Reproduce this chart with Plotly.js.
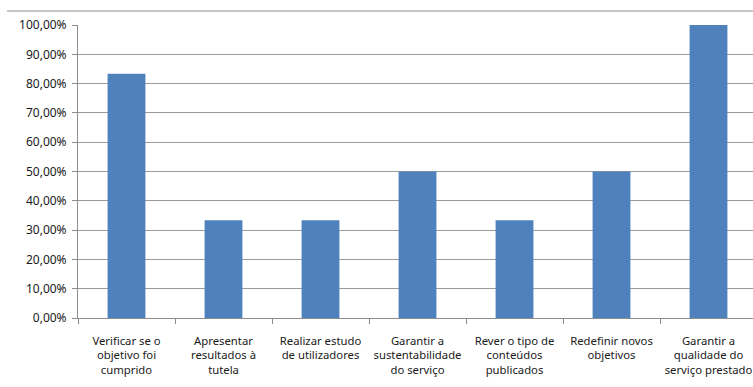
<!DOCTYPE html>
<html>
<head>
<meta charset="utf-8">
<script src="https://cdn.plot.ly/plotly-3.0.1.min.js"></script>
<style>
  html, body { margin: 0; padding: 0; background: #fff; }
  #chart { width: 753px; height: 387px; }
</style>
</head>
<body>
<div id="chart"></div>
<script>
// Objetivos da avaliação e respetiva proporção de respostas
const categories = [
  'Verificar se o<br>objetivo foi<br>cumprido',
  'Apresentar<br>resultados à<br>tutela',
  'Realizar estudo<br>de utilizadores',
  'Garantir a<br>sustentabilidade<br>do serviço',
  'Rever o tipo de<br>conteúdos<br>publicados',
  'Redefinir novos<br>objetivos',
  'Garantir a<br>qualidade do<br>serviço prestado'
];
const shares = [0.8333, 0.3333, 0.3333, 0.5, 0.3333, 0.5, 1.0];
const yTicks = [0, 0.1, 0.2, 0.3, 0.4, 0.5, 0.6, 0.7, 0.8, 0.9, 1.0];

const W = 753, H = 387;
const margin = { l: 78, r: 0, t: 25, b: 69 };
const catWidthPx = 97;                      // horizontal space per category
const plotW = W - margin.l - margin.r;
const xMax = -0.5 + plotW / catWidthPx;     // last category runs past the right edge

const trace = {
  type: 'bar',
  x: categories,
  y: shares,
  marker: { color: '#4F81BD', line: { width: 0 } },
  hoverinfo: 'skip'
};

const layout = {
  width: W,
  height: H,
  margin: margin,
  paper_bgcolor: '#ffffff',
  plot_bgcolor: '#ffffff',
  separators: ',.',
  bargap: 0.61,
  showlegend: false,
  font: { family: '"Noto Sans", "Open Sans", sans-serif', size: 11, color: '#1a1a1a' },
  xaxis: {
    type: 'category',
    range: [-0.5, xMax],
    showgrid: false,
    showline: true,
    linecolor: '#8c8c8c',
    linewidth: 1,
    ticks: 'outside',
    tickson: 'boundaries',
    ticklen: 5,
    tickcolor: '#8c8c8c',
    tickangle: 0,
    ticklabelstandoff: 12,
    tickfont: { size: 11.3 },
    fixedrange: true
  },
  yaxis: {
    range: [0, 1],
    tickvals: yTicks,
    tickformat: '.2%',
    showgrid: true,
    gridcolor: '#9a9a9a',
    gridwidth: 1,
    zeroline: false,
    showline: true,
    linecolor: '#8c8c8c',
    linewidth: 1,
    ticks: 'outside',
    ticklen: 5,
    tickcolor: '#8c8c8c',
    ticklabelstandoff: 3,
    tickfont: { size: 12 },
    fixedrange: true
  },
  shapes: [
    {
      type: 'line',
      xref: 'paper', yref: 'paper',
      x0: (7 - margin.l) / plotW, x1: 1,
      y0: 1 + 14 / (H - margin.t - margin.b),
      y1: 1 + 14 / (H - margin.t - margin.b),
      line: { color: '#8c8c8c', width: 1 }
    }
  ]
};

Plotly.newPlot('chart', [trace], layout, { displayModeBar: false, staticPlot: true });
</script>
</body>
</html>
